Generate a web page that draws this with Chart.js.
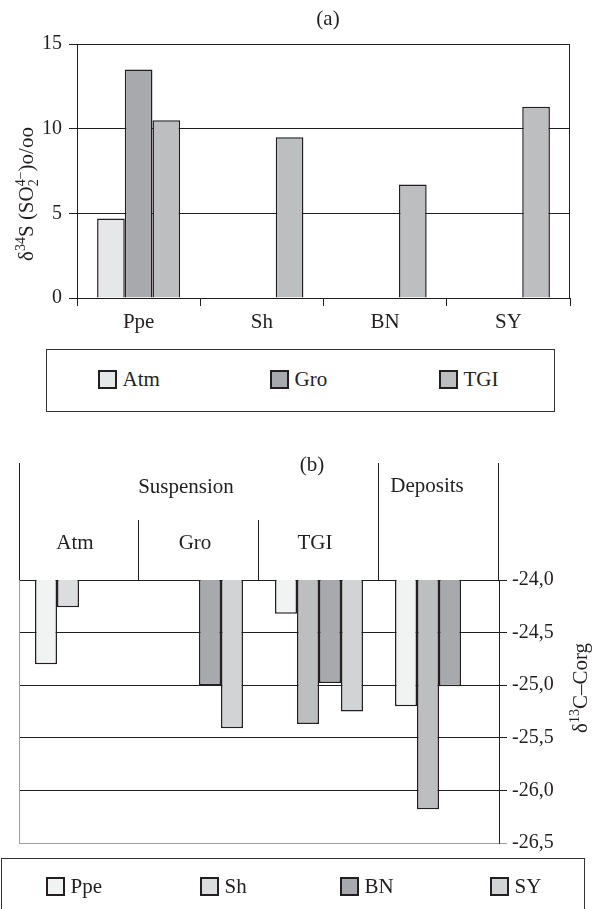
<!DOCTYPE html>
<html>
<head>
<meta charset="utf-8">
<script src="https://cdn.jsdelivr.net/npm/chart.js@4.4.1/dist/chart.umd.min.js"></script>
<style>
  html, body { margin: 0; padding: 0; background: #fff; }
  body { width: 595px; height: 909px; position: relative; overflow: hidden;
         font-family: "Liberation Serif", "Times New Roman", serif; color: #231f20; }
  canvas { position: absolute; left: 0; }
  #chartA { top: 0; }
  #chartB { top: 440px; }
  .legend { position: absolute; border: 1.5px solid #333; box-sizing: border-box; }
  .sw { position: absolute; width: 19px; height: 19px; box-sizing: border-box; border: 2px solid #231f20; }
  .lt { position: absolute; font-size: 21px; line-height: 21px; white-space: nowrap; }
</style>
</head>
<body>
<canvas id="chartA" width="595" height="338"></canvas>
<canvas id="chartB" width="595" height="420"></canvas>
<div id="legendA" class="legend" style="left:46px; top:349px; width:509px; height:63px;"></div>
<div id="legendB" class="legend" style="left:1px; top:858px; width:584px; height:70px;"></div>

<script>
// ---- panel (a): delta34S of sulphate ----
const catsA = ['Ppe', 'Sh', 'BN', 'SY'];
const seriesA = ['Atm', 'Gro', 'TGI'];
const atmA = [4.7, null, null, null];
const groA = [13.5, null, null, null];
const tgiA = [10.5, 9.5, 6.7, 11.3];
const colorsA = ['#e6e7e8', '#a7a9ac', '#bcbec0'];

// ---- panel (b): delta13C of organic carbon ----
const catsB = ['Atm', 'Gro', 'TGI', 'Deposits'];
const groupsB = ['Suspension', 'Suspension', 'Suspension', 'Deposits'];
const seriesB = ['Ppe', 'Sh', 'BN', 'SY'];
const ppeB = [-24.8, null, -24.32, -25.2];
const shB = [-24.26, null, -25.37, -26.18];
const bnB = [null, -25.0, -24.98, -25.01];
const syB = [null, -25.41, -25.25, null];
const colorsB = ['#f1f2f2', '#dcddde', '#a7a9ac', '#d1d3d4'];
const shBarColors = ['#dcddde', '#dcddde', '#bcbec0', '#bcbec0'];

const dark = '#231f20';
const serif = '"Liberation Serif", "Times New Roman", serif';

Chart.defaults.font.family = serif;
Chart.defaults.font.size = 20;
Chart.defaults.color = dark;
Chart.defaults.animation = false;

// draws text with super/subscripts along the x axis of the current transform, centred at 0
function richText(ctx, parts, size) {
  const small = Math.round(size * 0.66);
  const w = p => {
    if (p.stack) {
      ctx.font = small + 'px ' + serif;
      return Math.max(...p.stack.map(s => ctx.measureText(s).width));
    }
    ctx.font = (p.sup ? small : size) + 'px ' + serif;
    return ctx.measureText(p.t).width;
  };
  const total = parts.reduce((a, p) => a + w(p), 0);
  let x = -total / 2;
  ctx.textBaseline = 'alphabetic';
  ctx.textAlign = 'left';
  parts.forEach(p => {
    const pw = w(p);
    if (p.stack) {
      ctx.font = small + 'px ' + serif;
      ctx.fillText(p.stack[0], x, -size * 0.4);
      ctx.fillText(p.stack[1], x, size * 0.22);
    } else if (p.sup) {
      ctx.font = small + 'px ' + serif;
      ctx.fillText(p.t, x, -size * 0.4);
    } else {
      ctx.font = size + 'px ' + serif;
      ctx.fillText(p.t, x, 0);
    }
    x += pw;
  });
}

function vline(ctx, x, y1, y2, color) {
  ctx.save();
  ctx.strokeStyle = color;
  ctx.lineWidth = 1;
  ctx.beginPath();
  ctx.moveTo(Math.round(x) + 0.5, y1);
  ctx.lineTo(Math.round(x) + 0.5, y2);
  ctx.stroke();
  ctx.restore();
}

const decoA = {
  id: 'decoA',
  afterDraw(chart) {
    const { ctx, chartArea: a } = chart;
    vline(ctx, a.right - 1, a.top, a.bottom, dark);
    ctx.save();
    ctx.fillStyle = dark;
    ctx.font = '21px ' + serif;
    ctx.textAlign = 'center';
    ctx.textBaseline = 'middle';
    ctx.fillText('(a)', 328, 19);
    ctx.translate(33, 194);
    ctx.rotate(-Math.PI / 2);
    ctx.fillStyle = dark;
    richText(ctx, [{ t: 'δ' }, { t: '34', sup: true }, { t: 'S (SO' }, { stack: ['4−', '2'] }, { t: ')o/oo' }], 21);
    ctx.restore();
  }
};

new Chart(document.getElementById('chartA'), {
  type: 'bar',
  data: {
    labels: catsA,
    datasets: [atmA, groA, tgiA].map((d, i) => ({
      label: seriesA[i], data: d, backgroundColor: colorsA[i],
      borderColor: dark, borderWidth: 1.5
    }))
  },
  options: {
    responsive: false,
    layout: { padding: { top: 44, right: 25, left: 0, bottom: 0 } },
    plugins: { legend: { display: false }, tooltip: { enabled: false } },
    datasets: { bar: { categoryPercentage: 0.674, barPercentage: 1 } },
    scales: {
      x: {
        grid: { drawOnChartArea: false, offset: true, color: dark, tickLength: 8 },
        border: { color: dark },
        ticks: { font: { size: 21 }, padding: 4 },
        afterFit: s => { s.height = 40; }
      },
      y: {
        min: 0, max: 15,
        ticks: { stepSize: 5, padding: 7, font: { size: 20 } },
        grid: { color: dark, tickLength: 8 },
        border: { color: dark },
        afterFit: s => { s.width = 77; }
      }
    }
  },
  plugins: [decoA]
});

const decoB = {
  id: 'decoB',
  afterDraw(chart) {
    const { ctx, chartArea: a, scales: { x } } = chart;
    const half = (x.getPixelForValue(1) - x.getPixelForValue(0)) / 2;
    const topY = a.top - 117, subY = a.top - 60;
    ctx.save();
    // column dividers of the header table
    for (let i = 0; i <= catsB.length; i++) {
      const px = i < catsB.length ? x.getPixelForValue(i) - half : x.getPixelForValue(i - 1) + half;
      const sameGroup = i > 0 && i < catsB.length && groupsB[i] === groupsB[i - 1];
      if (i === catsB.length) continue; // right axis border drawn below
      vline(ctx, i === 0 ? px : px - 1, sameGroup ? subY : topY, a.top, dark);
    }
    vline(ctx, a.right - 1, topY, a.top, dark);
    vline(ctx, a.left, a.top, a.bottom, '#a0a0a0');

    ctx.fillStyle = dark;
    ctx.font = '21px ' + serif;
    ctx.textAlign = 'center';
    ctx.textBaseline = 'middle';
    ctx.fillText('(b)', 312, a.top - 115);
    ctx.fillText(groupsB[0], 186, a.top - 93);
    ctx.fillText(groupsB[3], 427, a.top - 94);
    catsB.forEach((c, i) => {
      if (c !== groupsB[i]) ctx.fillText(c, x.getPixelForValue(i) - 4, a.top - 37);
    });

    ctx.translate(587, a.top + 108);
    ctx.rotate(-Math.PI / 2);
    richText(ctx, [{ t: 'δ' }, { t: '13', sup: true }, { t: 'C–Corg' }], 21);
    ctx.restore();
  }
};

new Chart(document.getElementById('chartB'), {
  type: 'bar',
  data: {
    labels: catsB,
    datasets: [ppeB, shB, bnB, syB].map((d, i) => ({
      label: seriesB[i], data: d,
      backgroundColor: i === 1 ? shBarColors : colorsB[i],
      borderColor: dark, borderWidth: 1.5
    }))
  },
  options: {
    responsive: false,
    layout: { padding: { top: 140, right: 0, left: 19, bottom: 17 } },
    plugins: { legend: { display: false }, tooltip: { enabled: false } },
    datasets: { bar: { categoryPercentage: 0.733, barPercentage: 1 } },
    scales: {
      x: { display: false },
      y: {
        position: 'right',
        min: -26.5, max: -24,
        ticks: {
          stepSize: 0.5, padding: 5, font: { size: 20 },
          callback: v => v.toFixed(1).replace('.', ',')
        },
        grid: {
          tickLength: 8,
          color: c => (c.tick && Math.abs(c.tick.value + 26.5) < 1e-6) ? '#a0a0a0' : dark
        },
        border: { color: dark },
        afterFit: s => { s.width = 96; }
      }
    }
  },
  plugins: [decoB]
});

// ---- legends ----
function buildLegend(id, names, colors, xs, cy, boxTop, boxLeft) {
  const el = document.getElementById(id);
  names.forEach((n, i) => {
    const sw = document.createElement('div');
    sw.className = 'sw';
    sw.style.background = colors[i];
    sw.style.left = (xs[i] - boxLeft - 1.5) + 'px';
    sw.style.top = (cy - boxTop - 9.5 - 1.5) + 'px';
    el.appendChild(sw);
    const t = document.createElement('div');
    t.className = 'lt';
    t.textContent = n;
    t.style.left = (xs[i] + 25 - boxLeft - 1.5) + 'px';
    t.style.top = (cy - boxTop - 10.5 - 1.5) + 'px';
    el.appendChild(t);
  });
}
buildLegend('legendA', seriesA, colorsA, [98, 270, 439], 380, 349, 46);
buildLegend('legendB', seriesB, colorsB, [46, 200, 340, 490], 887, 858, 1);
</script>
</body>
</html>
